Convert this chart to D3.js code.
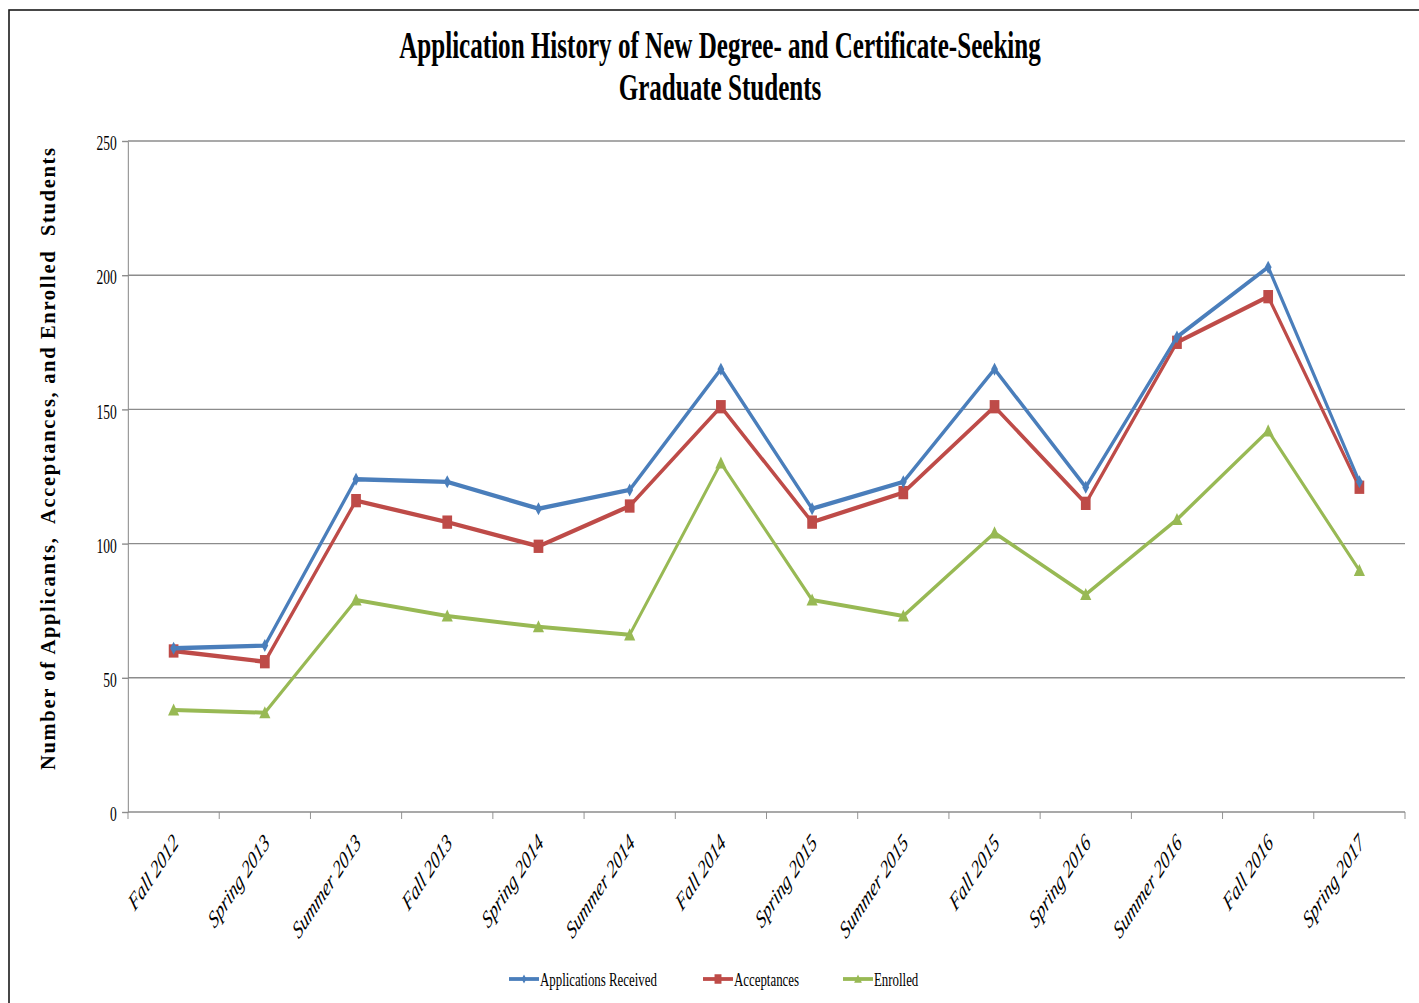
<!DOCTYPE html>
<html><head><meta charset="utf-8">
<script src="https://cdn.jsdelivr.net/npm/d3@7"></script>
<style>
html,body{margin:0;padding:0;background:#fff;}
text{font-family:"Liberation Serif","Times New Roman",serif;}
</style></head>
<body>
<svg id="chart" width="1419" height="1003"></svg>
<script>
const categories = ["Fall 2012","Spring 2013","Summer 2013","Fall 2013","Spring 2014","Summer 2014","Fall 2014","Spring 2015","Summer 2015","Fall 2015","Spring 2016","Summer 2016","Fall 2016","Spring 2017"];
const applications = [61,62,124,123,113,120,165,113,123,165,121,177,203,123];
const acceptances  = [60,56,116,108,99,114,151,108,119,151,115,175,192,121];
const enrolled     = [38,37,79,73,69,66,130,79,73,104,81,109,142,90];
const seriesNames = ["Applications Received","Acceptances","Enrolled"];
const yTicks = [0,50,100,150,200,250];
const titleLines = ["Application History of New Degree- and Certificate-Seeking","Graduate Students"];
const yTitle = "Number of Applicants,  Acceptances, and Enrolled  Students";

const SX = 0.66; // horizontal condensation of the original picture
const colors = ["#4a7ebb","#be4b48","#98b954"];
const svg = d3.select("#chart");
svg.append("rect").attr("x",0).attr("y",0).attr("width",1419).attr("height",1003).attr("fill","#fff");
svg.append("rect").attr("x",9).attr("y",10).attr("width",1430).attr("height",1010)
  .attr("fill","none").attr("stroke","#1a1a1a").attr("stroke-width",1.6);

const g = svg.append("g").attr("transform",`scale(${SX},1)`);
const x0 = 128/SX, x1 = 1405/SX;
const x = d3.scaleBand().domain(categories).range([x0,x1]).padding(0);
const cx = c => x(c) + x.bandwidth()/2;
const y = d3.scaleLinear().domain([0,250]).range([812,141]);

// title
titleLines.forEach((t,i)=>{
  g.append("text").attr("x",720/SX).attr("y",i===0?58:100)
   .attr("text-anchor","middle").attr("font-size",38).attr("font-weight","bold")
   .attr("fill","#000").text(t);
});

// gridlines
g.append("g").selectAll("line").data(yTicks.filter(d=>d>0)).join("line")
  .attr("x1",x0).attr("x2",x1).attr("y1",d=>y(d)).attr("y2",d=>y(d))
  .attr("stroke","#8c8c8c").attr("stroke-width",1.4);

// y axis
const yAxis = g.append("g").attr("transform",`translate(${x0},0)`)
  .call(d3.axisLeft(y).tickValues(yTicks).tickSize(9).tickPadding(8).tickSizeOuter(0));
yAxis.select(".domain").attr("stroke","#8c8c8c").attr("stroke-width",1.6);
yAxis.selectAll(".tick line").attr("stroke","#8c8c8c").attr("stroke-width",1.4);
yAxis.selectAll(".tick text").attr("font-size",20.5).attr("fill","#000")
  .attr("font-family","Liberation Serif").attr("dy","0.42em");

// x axis
g.append("line").attr("x1",x0).attr("x2",x1).attr("y1",y(0)).attr("y2",y(0))
  .attr("stroke","#8c8c8c").attr("stroke-width",1.6);
const bounds = categories.map(c=>x(c)).concat([x1]);
g.append("g").selectAll("line").data(bounds).join("line")
  .attr("x1",d=>d).attr("x2",d=>d).attr("y1",y(0)).attr("y2",y(0)+7)
  .attr("stroke","#8c8c8c").attr("stroke-width",1.4);
g.append("g").selectAll("text").data(categories).join("text")
  .attr("transform",c=>`translate(${cx(c)+9},844) rotate(-45)`)
  .attr("text-anchor","end").attr("font-size",24.5).attr("font-style","italic")
  .attr("fill","#000").text(c=>c);

// y title (not condensed)
svg.append("text").attr("transform","translate(55,459) rotate(-90)")
  .attr("text-anchor","middle").attr("font-size",20.5).attr("font-weight","bold")
  .attr("textLength",622).attr("lengthAdjust","spacing")
  .attr("fill","#000").style("white-space","pre").text(yTitle);

// markers
function marker(sel, i, s){
  if(i===0){
    sel.append("path").attr("d",`M0,${-s}L${s*0.8},0L0,${s}L${-s*0.8},0Z`).attr("fill",colors[0]);
  } else if(i===1){
    sel.append("rect").attr("x",-s*1.05).attr("y",-s*0.95).attr("width",s*2.1).attr("height",s*1.9).attr("fill",colors[1]);
  } else {
    sel.append("path").attr("d",`M0,${-s}L${s*1.3},${s*0.85}L${-s*1.3},${s*0.85}Z`).attr("fill",colors[2]);
  }
}

const seriesData = [applications, acceptances, enrolled];
const line = d3.line().x((d,i)=>cx(categories[i])).y(d=>y(d));
[2,1,0].forEach(si=>{
  const vals = seriesData[si];
  g.append("path").datum(vals).attr("d",line).attr("fill","none")
    .attr("stroke",colors[si]).attr("stroke-width",si===2?4:4.4)
    .attr("stroke-linejoin","round");
  const mg = g.append("g");
  vals.forEach((v,i)=>{
    const m = mg.append("g").attr("transform",`translate(${cx(categories[i])},${y(v)})`);
    marker(m, si, si===1?7:6.5);
  });
});

// legend
const legendX = [509,703,843];
seriesNames.forEach((n,i)=>{
  const lx = legendX[i]/SX;
  const lg = g.append("g");
  lg.append("line").attr("x1",lx).attr("x2",lx+30/SX).attr("y1",979).attr("y2",979)
    .attr("stroke",colors[i]).attr("stroke-width",3.8);
  const m = lg.append("g").attr("transform",`translate(${lx+15/SX},979)`);
  marker(m,i,i===1?5:4.5);
  lg.append("text").attr("x",lx+31/SX).attr("y",986).attr("font-size",19.5)
    .attr("fill","#000").text(n);
});
</script>
</body></html>
